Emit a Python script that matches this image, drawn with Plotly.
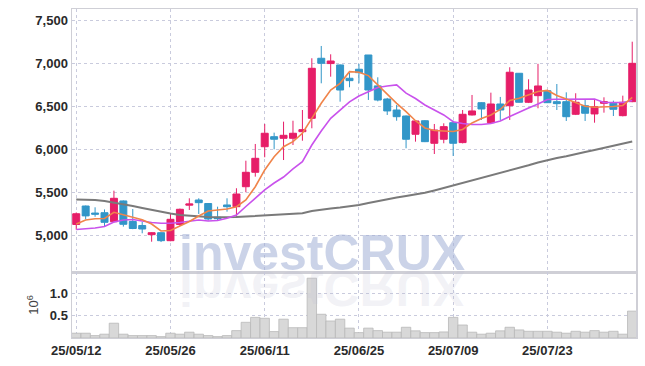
import plotly.graph_objects as go

dates = [
    "25/05/12", "25/05/13", "25/05/14", "25/05/15", "25/05/16", "25/05/19", "25/05/20", "25/05/21", "25/05/22", "25/05/23",
    "25/05/26", "25/05/27", "25/05/28", "25/05/29", "25/05/30", "25/06/02", "25/06/04", "25/06/05", "25/06/09", "25/06/10",
    "25/06/11", "25/06/12", "25/06/13", "25/06/16", "25/06/17", "25/06/18", "25/06/19", "25/06/20", "25/06/23", "25/06/24",
    "25/06/25", "25/06/26", "25/06/27", "25/06/30", "25/07/01", "25/07/02", "25/07/03", "25/07/04", "25/07/07", "25/07/08",
    "25/07/09", "25/07/10", "25/07/11", "25/07/14", "25/07/15", "25/07/16", "25/07/17", "25/07/18", "25/07/21", "25/07/22",
    "25/07/23", "25/07/24", "25/07/25", "25/07/28", "25/07/29", "25/07/30", "25/07/31", "25/08/01", "25/08/04", "25/08/05",
]

opens = [5125, 5340, 5258, 5262, 5157, 5399, 5160, 5113, 5006, 5029,
         4936, 5125, 5350, 5410, 5369, 5209, 5352, 5332, 5565, 5733,
         6031, 6148, 6129, 6129, 6206, 6362, 7062, 7000, 6984, 6829,
         6934, 7100, 6740, 6587, 6459, 6389, 6176, 6334, 6071, 6118,
         6311, 6079, 6401, 6544, 6311, 6529, 6509, 6887, 6549, 6626,
         6684, 6556, 6556, 6409, 6509, 6413, 6537, 6537, 6393, 6556]
highs = [5265, 5345, 5325, 5300, 5519, 5405, 5305, 5154, 5035, 5032,
         5259, 5310, 5430, 5430, 5375, 5332, 5430, 5547, 5868, 6063,
         6296, 6195, 6323, 6334, 6459, 7062, 7205, 7108, 6990, 6894,
         6997, 7100, 6840, 6600, 6517, 6395, 6340, 6340, 6296, 6304,
         6334, 6459, 6634, 6550, 6661, 6611, 6957, 6890, 6817, 6997,
         6690, 6762, 6665, 6654, 6576, 6576, 6607, 6568, 6626, 7255]
lows = [5065, 5185, 5215, 5100, 5150, 5100, 5070, 5022, 4924, 4920,
        4930, 5110, 5294, 5247, 5170, 5177, 5274, 5216, 5500, 5682,
        5908, 6001, 5876, 6051, 6101, 6246, 6770, 6847, 6556, 6724,
        6770, 6576, 6560, 6401, 6334, 6013, 6090, 6085, 5946, 6071,
        5923, 6070, 6395, 6343, 6300, 6343, 6343, 6545, 6540, 6479,
        6540, 6459, 6331, 6400, 6331, 6311, 6428, 6389, 6385, 6550]
closes = [5250, 5225, 5245, 5150, 5430, 5127, 5078, 5072, 5029, 4936,
          5185, 5302, 5364, 5379, 5189, 5192, 5332, 5480, 5733, 5896,
          6188, 6118, 6164, 6188, 6230, 6945, 7003, 7030, 6692, 6801,
          6894, 6692, 6575, 6448, 6381, 6118, 6331, 6090, 6226, 6265,
          6071, 6409, 6448, 6471, 6529, 6459, 6899, 6549, 6692, 6739,
          6544, 6533, 6381, 6549, 6421, 6498, 6556, 6467, 6549, 7003]

ma_short = [5130, 5177, 5192, 5195, 5267, 5241, 5212, 5181, 5130, 5049,
            5055, 5107, 5160, 5224, 5282, 5294, 5305, 5332, 5410, 5565,
            5760, 5915, 6031, 6090, 6188, 6362, 6537, 6692, 6770, 6906,
            6899, 6860, 6750, 6640, 6537, 6439, 6334, 6250, 6220, 6214,
            6209, 6232, 6308, 6360, 6401, 6465, 6571, 6595, 6634, 6675,
            6687, 6628, 6587, 6547, 6502, 6491, 6494, 6500, 6512, 6605]
ma_mid = [5067, 5072, 5084, 5101, 5154, 5177, 5183, 5165, 5148, 5140,
          5139, 5148, 5165, 5177, 5165, 5171, 5198, 5235, 5334, 5434,
          5527, 5608, 5678, 5772, 5857, 6051, 6215, 6362, 6459, 6553,
          6622, 6669, 6722, 6739, 6751, 6656, 6593, 6517, 6459, 6401,
          6323, 6302, 6290, 6290, 6302, 6331, 6383, 6436, 6482, 6529,
          6582, 6584, 6584, 6587, 6587, 6587, 6547, 6544, 6547, 6570]
ma_long = [5416, 5414, 5410, 5398, 5381, 5363, 5340, 5317, 5294, 5268,
           5253, 5236, 5227, 5220, 5212, 5209, 5209, 5212, 5218, 5224,
           5232, 5238, 5244, 5250, 5255, 5282, 5300, 5311, 5323, 5334,
           5352, 5375, 5398, 5418, 5439, 5456, 5474, 5494, 5521, 5550,
           5582, 5608, 5637, 5667, 5690, 5719, 5748, 5783, 5815, 5847,
           5876, 5900, 5921, 5941, 5970, 5993, 6016, 6040, 6063, 6092]

volume_m = [0.107, 0.107, 0.054, 0.085, 0.33, 0.085, 0.054, 0.054, 0.054, 0.031,
            0.107, 0.085, 0.13, 0.085, 0.054, 0.031, 0.054, 0.165, 0.35, 0.46,
            0.44, 0.143, 0.42, 0.23, 0.23, 1.335, 0.53, 0.38, 0.42, 0.22,
            0.12, 0.22, 0.165, 0.13, 0.13, 0.24, 0.16, 0.12, 0.12, 0.135,
            0.46, 0.29, 0.13, 0.085, 0.107, 0.16, 0.24, 0.18, 0.15, 0.15,
            0.15, 0.13, 0.107, 0.15, 0.13, 0.165, 0.13, 0.15, 0.085, 0.60]

price_ticks = [5000, 5500, 6000, 6500, 7000, 7500]
volume_ticks = [0.5, 1.0]
x_tick_labels = ["25/05/12", "25/05/26", "25/06/11", "25/06/25", "25/07/09", "25/07/23"]

RED = "#e61e68"
BLUE = "#3296c8"
GRID = "#c9cbdd"
AXLINE = "#cfcfd6"
TICKFONT = dict(family="Liberation Sans, Arial, Roboto, sans-serif",
                size=13, color="#2a2a2a", weight="bold")

fig = go.Figure()

fig.add_trace(go.Scatter(x=dates, y=ma_long, mode="lines", line=dict(color="#7a7a7a", width=2),
                         xaxis="x", yaxis="y", showlegend=False, hoverinfo="skip"))
fig.add_trace(go.Scatter(x=dates, y=ma_mid, mode="lines", line=dict(color="#c952ec", width=1.6),
                         xaxis="x", yaxis="y", showlegend=False, hoverinfo="skip"))
fig.add_trace(go.Scatter(x=dates, y=ma_short, mode="lines", line=dict(color="#f0844a", width=1.6),
                         xaxis="x", yaxis="y", showlegend=False, hoverinfo="skip"))
fig.add_trace(go.Candlestick(
    x=dates, open=opens, high=highs, low=lows, close=closes,
    increasing=dict(line=dict(color=RED, width=1), fillcolor=RED),
    decreasing=dict(line=dict(color=BLUE, width=1), fillcolor=BLUE),
    whiskerwidth=0, xaxis="x", yaxis="y", showlegend=False))

fig.add_trace(go.Bar(x=dates, y=volume_m, marker=dict(color="#d8d8d8", line=dict(color="#b9b9b9", width=0.8)),
                     xaxis="x2", yaxis="y2", showlegend=False))

split = 66 / 329
xrange = [-0.45, 59.4]

fig.update_layout(
    width=645, height=366,
    margin=dict(l=72, r=9, t=9, b=28),
    paper_bgcolor="white", plot_bgcolor="white",
    hovermode=False,
    bargap=0, boxgap=0.14, boxgroupgap=0.14,
    xaxis=dict(type="category", categoryorder="array", categoryarray=dates, range=xrange,
               anchor="y", domain=[0, 1], matches="x2", automargin=False,
               showticklabels=False, tickvals=x_tick_labels, ticks="",
               showgrid=True, gridcolor=GRID, griddash="dot", gridwidth=1,
               showline=True, linecolor=AXLINE, linewidth=1.5, mirror=True,
               rangeslider=dict(visible=False), zeroline=False),
    yaxis=dict(domain=[split, 1], range=[4571, 7636], tickvals=price_ticks, tickformat=",",
               tickfont=TICKFONT, ticks="", automargin=False, showgrid=True, gridcolor=GRID, griddash="dot",
               showline=True, linecolor=AXLINE, linewidth=1.5, mirror=True, zeroline=False),
    xaxis2=dict(type="category", categoryorder="array", categoryarray=dates, range=xrange,
                anchor="y2", domain=[0, 1], automargin=False,
                tickvals=x_tick_labels, ticktext=x_tick_labels, tickfont=TICKFONT, ticks="",
                showgrid=True, gridcolor=GRID, griddash="dot", gridwidth=1,
                showline=True, linecolor=AXLINE, linewidth=1, mirror=True, zeroline=False),
    yaxis2=dict(domain=[0, split], range=[0, 1.473], tickvals=volume_ticks, tickformat=".1f",
                tickfont=TICKFONT, ticks="", automargin=False, showgrid=True, gridcolor=GRID, griddash="dot",
                showline=True, linecolor=AXLINE, linewidth=1.5, mirror=True, zeroline=False,
                title=dict(text="10<sup>6</sup>", font=dict(family="Liberation Sans, Roboto, sans-serif",
                                                          size=13, color="#444444"), standoff=8)),
    annotations=[dict(
        text="investCRUX", xref="paper", yref="paper", x=0.4424, y=0.167,
        xanchor="center", yanchor="bottom", showarrow=False,
        font=dict(family="Liberation Sans, Arial, sans-serif", size=50, color="rgba(160,174,214,0.55)",
                  weight="bold"))],
)

post = """
document.body.style.margin = '0';
document.body.style.padding = '0';
document.body.style.overflow = 'hidden';
(function(){
  function mirror(){
    var gd = document.getElementById('{plot_id}');
    if(!gd) return;
    var t = gd.querySelector('.annotation text.annotation-text');
    if(!t) return;
    var b = t.getBBox();
    var base = b.y + b.height*0.81;
    var c = t.cloneNode(true);
    c.setAttribute('transform', 'translate(0,' + (2*base) + ') scale(1,-1)');
    c.style.fill = 'rgba(190,190,212,0.35)';
    t.parentNode.insertBefore(c, t);
  }
  setTimeout(mirror, 30);
})();
"""

fig.write_html("out.html", post_script=post, config={"displayModeBar": False, "staticPlot": True})
